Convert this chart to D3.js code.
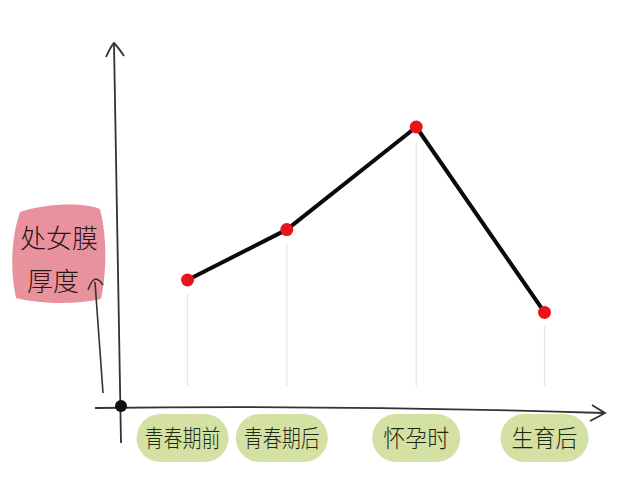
<!DOCTYPE html>
<html>
<head>
<meta charset="utf-8">
<script src="https://cdn.jsdelivr.net/npm/d3@7"></script>
<style>
  html, body { margin: 0; padding: 0; background: #fff; }
  svg { display: block; }
  text { font-family: "Noto Sans CJK SC", "Noto Sans", sans-serif; }
</style>
</head>
<body>
<svg id="chart" width="640" height="480"></svg>
<script>
// stages along the x axis (uneven spacing, as drawn)
const stages = ['青春期前', '青春期后', '怀孕时', '生育后'];
const stagePos = [0.55, 1.37, 2.44, 3.5];
// relative thickness
const thickness = [3.5, 4.9, 7.75, 2.6];
const yTitle = ['处女膜', '厚度'];

const width = 640,
  height = 480;

const x = d3.scaleLinear()
  .domain([0, 4])
  .range([121, 605]);

const y = d3.scaleLinear()
  .domain([0, 10])
  .range([406, 46]);

const svg = d3.select('#chart');

const data = stages.map((s, i) => ({ stage: s, pos: stagePos[i], v: thickness[i] }));

// y title blob
svg.append('path')
  .attr('d', 'M20,212 C45,203 85,202 100,209 C108,240 106,275 101,299 C75,305 40,304 16,298 C10,270 11,238 20,212 Z')
  .attr('fill', '#e8929e');

svg.selectAll('text.ytitle')
  .data(yTitle)
  .enter()
  .append('text')
  .attr('class', 'ytitle')
  .attr('x', (d, i) => i ? 27 : 20)
  .attr('y', (d, i) => 248 + i * 43)
  .attr('font-size', 26)
  .attr('font-weight', 300)
  .attr('fill', '#2a1515')
  .text(d => d);

// small arrow beside the title
svg.append('path')
  .attr('d', 'M103,393 L95,282')
  .attr('stroke', '#333')
  .attr('stroke-width', 1.6)
  .attr('fill', 'none');
svg.append('path')
  .attr('d', 'M88,290 Q92,279 96,279 Q100,280 103,285')
  .attr('stroke', '#333')
  .attr('stroke-width', 1.6)
  .attr('fill', 'none');

// guide lines
svg.selectAll('line.guide')
  .data(data)
  .enter()
  .append('line')
  .attr('class', 'guide')
  .attr('x1', d => x(d.pos))
  .attr('x2', d => x(d.pos))
  .attr('y1', d => y(d.v) + 14)
  .attr('y2', 386)
  .attr('stroke', '#e4e4e4')
  .attr('stroke-width', 1.2);

// axes
svg.append('path')
  .attr('d', 'M114,44 L121,443')
  .attr('stroke', '#333')
  .attr('stroke-width', 1.8)
  .attr('fill', 'none');
svg.append('path')
  .attr('d', 'M106,57 Q111,46 114,43 Q118,47 124,56')
  .attr('stroke', '#333')
  .attr('stroke-width', 1.8)
  .attr('fill', 'none');

svg.append('path')
  .attr('d', 'M95,408 Q350,405 604,413')
  .attr('stroke', '#333')
  .attr('stroke-width', 1.8)
  .attr('fill', 'none');
svg.append('path')
  .attr('d', 'M592,405 Q600,410 605,413 Q598,417 590,421')
  .attr('stroke', '#333')
  .attr('stroke-width', 1.8)
  .attr('fill', 'none');

svg.append('circle')
  .attr('cx', x(0))
  .attr('cy', y(0))
  .attr('r', 6)
  .attr('fill', '#111');

// stage labels
const lab = svg.selectAll('g.stage')
  .data(data)
  .enter()
  .append('g')
  .attr('class', 'stage')
  .attr('transform', d => 'translate(' + (x(d.pos) - (d.stage.length > 3 ? 5 : 0)) + ',437)');

lab.append('rect')
  .attr('x', d => d.stage.length > 3 ? -46 : -44)
  .attr('y', -23)
  .attr('width', d => d.stage.length > 3 ? 92 : 88)
  .attr('height', 48)
  .attr('rx', 24)
  .attr('fill', '#d4e1a3');

lab.append('text')
  .attr('text-anchor', 'middle')
  .attr('y', 10)
  .attr('font-size', 24)
  .attr('font-weight', 300)
  .attr('fill', '#1d2a12')
  .attr('textLength', d => d.stage.length > 3 ? 76 : 66)
  .attr('lengthAdjust', 'spacingAndGlyphs')
  .text(d => d.stage);

// line
const line = d3.line()
  .x(d => x(d.pos))
  .y(d => y(d.v));

svg.append('path')
  .datum(data)
  .attr('d', line)
  .attr('fill', 'none')
  .attr('stroke', '#0a0a0a')
  .attr('stroke-width', 4)
  .attr('stroke-linejoin', 'round')
  .attr('stroke-linecap', 'round');

svg.selectAll('circle.pt')
  .data(data)
  .enter()
  .append('circle')
  .attr('class', 'pt')
  .attr('cx', d => x(d.pos))
  .attr('cy', d => y(d.v))
  .attr('r', 6.5)
  .attr('fill', '#e8131b');
</script>
</body>
</html>
